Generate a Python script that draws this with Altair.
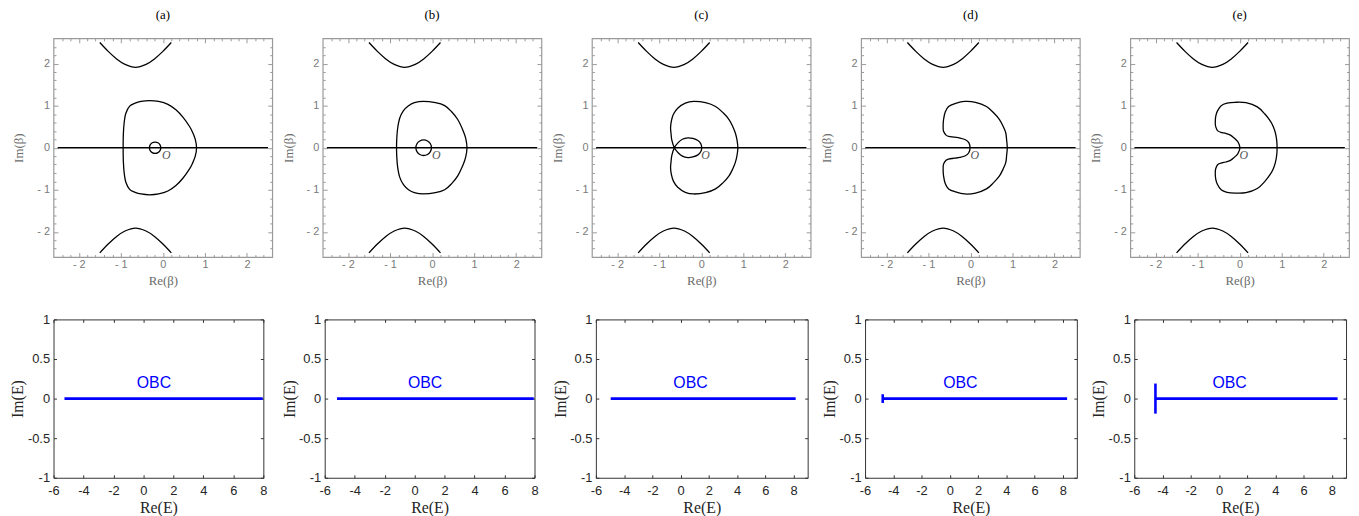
import altair as alt
import pandas as pd

SANS = "Liberation Sans"
SERIF = "Liberation Serif"
PANELS = ["(a)", "(b)", "(c)", "(d)", "(e)"]

# ---------------- top row (Im(beta) >= 0 halves) ----------------
LINE_X = [-2.5, 2.5]
HYP_X = [-1.5, -1.3, -1.1, -0.9, -0.65, -0.4, -0.2, 0.0, 0.2]
HYP_Y = [2.5, 2.29, 2.11, 1.98, 1.91, 1.98, 2.11, 2.29, 2.5]

A_OUT_X = [0.80, 0.77, 0.70, 0.63, 0.48, 0.31, 0.12, -0.10, -0.32, -0.52, -0.66, -0.79, -0.88, -0.92, -0.94, -0.945]
A_OUT_Y = [0.00, 0.20, 0.38, 0.51, 0.72, 0.90, 1.03, 1.10, 1.12, 1.10, 1.06, 0.99, 0.82, 0.60, 0.32, 0.00]
A_IN_X = [-0.05, -0.068, -0.118, -0.185, -0.253, -0.302, -0.32]
A_IN_Y = [0.0, 0.068, 0.117, 0.135, 0.117, 0.068, 0.0]

B_OUT_X = [0.83, 0.80, 0.74, 0.61, 0.46, 0.30, 0.08, -0.21, -0.42, -0.56, -0.68, -0.77, -0.82, -0.84, -0.845]
B_OUT_Y = [0.00, 0.22, 0.40, 0.67, 0.86, 1.00, 1.07, 1.10, 1.07, 1.00, 0.88, 0.70, 0.45, 0.20, 0.00]
B_IN_X = [-0.015, -0.04, -0.108, -0.2, -0.293, -0.36, -0.385]
B_IN_Y = [0.0, 0.093, 0.16, 0.185, 0.16, 0.093, 0.0]

C_OUT_X = [0.87, 0.85, 0.81, 0.75, 0.66, 0.52, 0.34, 0.10, -0.18, -0.38, -0.56, -0.66, -0.71, -0.73, -0.72, -0.70, -0.64]
C_OUT_Y = [0.00, 0.18, 0.35, 0.50, 0.67, 0.83, 0.98, 1.07, 1.10, 1.06, 0.94, 0.80, 0.64, 0.48, 0.35, 0.18, 0.00]
C_IN_X = [0.01, -0.01, -0.08, -0.20, -0.32, -0.45, -0.55, -0.64]
C_IN_Y = [0.00, 0.09, 0.17, 0.22, 0.235, 0.20, 0.12, 0.00]

D_X = [0.875, 0.86, 0.84, 0.78, 0.69, 0.55, 0.38, 0.12, -0.14, -0.36, -0.52, -0.60, -0.64, -0.65,
       -0.64, -0.58, -0.52, -0.38, -0.25, -0.12, -0.04, -0.01]
D_Y = [0.00, 0.18, 0.35, 0.50, 0.67, 0.83, 0.98, 1.08, 1.10, 1.05, 0.98, 0.85, 0.67, 0.50,
       0.39, 0.30, 0.27, 0.25, 0.23, 0.19, 0.12, 0.00]

E_X = [0.89, 0.88, 0.85, 0.80, 0.73, 0.60, 0.42, 0.15, -0.11, -0.30, -0.44, -0.53, -0.57, -0.58,
       -0.57, -0.52, -0.42, -0.33, -0.22, -0.13, -0.05, -0.01, 0.005]
E_Y = [0.00, 0.18, 0.35, 0.50, 0.63, 0.80, 0.97, 1.07, 1.08, 1.06, 1.00, 0.87, 0.74, 0.60,
       0.50, 0.40, 0.36, 0.34, 0.30, 0.23, 0.15, 0.07, 0.00]

O_X = [0.08, 0.1, 0.1, 0.1, 0.1]
O_Y = [-0.17, -0.17, -0.17, -0.17, -0.17]

TOP_MAJOR = [-2, -1, 0, 1, 2]
TOP_MINOR = [-2.4, -2.2, -1.8, -1.6, -1.4, -1.2, -0.8, -0.6, -0.4, -0.2,
             0.2, 0.4, 0.6, 0.8, 1.2, 1.4, 1.6, 1.8, 2.2, 2.4]

# ---------------- bottom row (OBC spectra) ----------------
OBC_START = [-5.27, -5.18, -4.95, -4.75, -4.5]
OBC_END = [7.96, 7.95, 8.15, 8.31, 8.4]
BAR_HALF = [0.0, 0.0, 0.0, 0.055, 0.19]
X_MAX = [8, 8, 9, 9, 9]
OBC_LABEL_X = [0.7, 0.7, 0.7, 0.75, 0.75]
OBC_LABEL_Y = [0.19, 0.19, 0.19, 0.19, 0.19]
BOT_X_TICKS = [-6, -4, -2, 0, 2, 4, 6, 8]
BOT_Y_TICKS = [-1, -0.5, 0, 0.5, 1]
BOT_W = [212, 212, 214, 214, 214]


def loop_points(xs, ys):
    upper = list(zip(xs, ys))
    lower = [(x, -y) for x, y in reversed(upper[1:-1])]
    return upper + lower


def crossing_points(ox, oy, ix, iy):
    o = list(zip(ox, oy))
    i = list(zip(ix, iy))
    seq = o[:]
    seq += [(x, -y) for x, y in reversed(i[1:-1])]
    seq += i[:]
    seq += [(x, -y) for x, y in reversed(o[1:-1])]
    return seq


LOOPS = [
    [loop_points(A_OUT_X, A_OUT_Y), loop_points(A_IN_X, A_IN_Y)],
    [loop_points(B_OUT_X, B_OUT_Y), loop_points(B_IN_X, B_IN_Y)],
    [crossing_points(C_OUT_X, C_OUT_Y, C_IN_X, C_IN_Y)],
    [loop_points(D_X, D_Y)],
    [loop_points(E_X, E_Y)],
]

TOP_LABEL = "(datum.value < 0 ? '- ' : '') + format(abs(datum.value), 'd')"
BX_LABEL = "(datum.value < 0 ? '-' : '') + format(abs(datum.value), 'd')"
BY_LABEL = "(datum.value < 0 ? '-' : '') + format(abs(datum.value), '~g')"


def tick_axis(orient, values, size, color):
    return alt.Axis(orient=orient, values=values, labels=False, domain=False, grid=False,
                    ticks=True, tickSize=size, tickColor=color, tickWidth=1, offset=-size,
                    title=None, minExtent=0, maxExtent=0)


def tick_layer(df, xs, ys, xaxis, yaxis):
    return alt.Chart(df).mark_point(opacity=0).encode(
        x=alt.X("x:Q", scale=xs, axis=xaxis),
        y=alt.Y("y:Q", scale=ys, axis=yaxis),
    )


def top_panel(k):
    xs = alt.Scale(domain=[-2.6, 2.6], nice=False, zero=False)
    ys = alt.Scale(domain=[-2.6, 2.6], nice=False, zero=False)
    gray = "#9a9a9a"
    xaxis = alt.Axis(orient="bottom", values=TOP_MAJOR, labelExpr=TOP_LABEL, ticks=False,
                     domain=False, grid=False, labelFont=SANS, labelFontSize=11,
                     labelColor="#7a7a7a", labelPadding=2, labelFlush=False, labelOverlap=False,
                     title="Re(β)", titleFont=SERIF, titleFontSize=13, titleFontWeight="normal",
                     titleColor="#6b6b6b", titlePadding=2, minExtent=16, maxExtent=16)
    yaxis = alt.Axis(orient="left", values=TOP_MAJOR, labelExpr=TOP_LABEL, ticks=False,
                     domain=False, grid=False, labelFont=SANS, labelFontSize=11,
                     labelColor="#7a7a7a", labelPadding=4, labelOverlap=False,
                     title="Im(β)", titleFont=SERIF, titleFontSize=13, titleFontWeight="normal",
                     titleColor="#6b6b6b", titlePadding=6, minExtent=22, maxExtent=22)

    line_df = pd.DataFrame({"x": LINE_X, "y": [0.0, 0.0]})
    hyp_rows = []
    for i, (hx, hy) in enumerate(zip(HYP_X, HYP_Y)):
        hyp_rows.append({"x": hx, "y": hy, "c": "up", "i": i})
        hyp_rows.append({"x": hx, "y": -hy, "c": "down", "i": i})
    hyp_df = pd.DataFrame(hyp_rows)
    loop_rows = []
    for c, pts in enumerate(LOOPS[k]):
        for i, (px, py) in enumerate(pts):
            loop_rows.append({"x": px, "y": py, "c": c, "i": i})
    loop_df = pd.DataFrame(loop_rows)
    o_df = pd.DataFrame({"x": [O_X[k]], "y": [O_Y[k]]})

    layers = [
        alt.Chart(line_df).mark_line(color="black", strokeWidth=1.5).encode(
            x=alt.X("x:Q", scale=xs, axis=xaxis), y=alt.Y("y:Q", scale=ys, axis=yaxis)),
        alt.Chart(hyp_df).mark_line(color="black", strokeWidth=1.3, interpolate="cardinal").encode(
            x=alt.X("x:Q", scale=xs, axis=None), y=alt.Y("y:Q", scale=ys, axis=None),
            detail="c:N", order="i:Q"),
        alt.Chart(loop_df).mark_line(color="black", strokeWidth=1.3,
                                     interpolate="cardinal-closed").encode(
            x=alt.X("x:Q", scale=xs, axis=None), y=alt.Y("y:Q", scale=ys, axis=None),
            detail="c:N", order="i:Q"),
        alt.Chart(o_df).mark_text(text="O", font=SERIF, fontStyle="italic", fontSize=12,
                                  color="#555555").encode(
            x=alt.X("x:Q", scale=xs, axis=None), y=alt.Y("y:Q", scale=ys, axis=None)),
        tick_layer(line_df, xs, ys, tick_axis("bottom", TOP_MAJOR, 4.5, gray),
                   tick_axis("left", TOP_MAJOR, 4.5, gray)),
        tick_layer(line_df, xs, ys, tick_axis("top", TOP_MAJOR, 4.5, gray),
                   tick_axis("right", TOP_MAJOR, 4.5, gray)),
        tick_layer(line_df, xs, ys, tick_axis("bottom", TOP_MINOR, 2.5, gray),
                   tick_axis("left", TOP_MINOR, 2.5, gray)),
        tick_layer(line_df, xs, ys, tick_axis("top", TOP_MINOR, 2.5, gray),
                   tick_axis("right", TOP_MINOR, 2.5, gray)),
    ]
    return alt.layer(*layers).resolve_axis(x="independent", y="independent").properties(
        width=221, height=221,
        title=alt.TitleParams(text=PANELS[k], font=SERIF, fontSize=13, fontWeight="normal",
                              color="black", offset=3, frame="group", anchor="middle",
                              baseline="bottom"),
        view=alt.ViewBackground(stroke=gray, strokeWidth=1.2),
    )


def bottom_panel(k):
    xs = alt.Scale(domain=[-6, X_MAX[k]], nice=False, zero=False)
    ys = alt.Scale(domain=[-1, 1], nice=False, zero=False)
    dark = "#333333"
    xaxis = alt.Axis(orient="bottom", values=BOT_X_TICKS, labelExpr=BX_LABEL, ticks=False,
                     domain=False, grid=False, labelFont=SANS, labelFontSize=13,
                     labelColor="#262626", labelPadding=7, labelFlush=False, labelOverlap=False,
                     title="Re(E)", titleFont=SERIF, titleFontSize=16, titleFontWeight="normal",
                     titleColor="#262626", titlePadding=1, minExtent=21, maxExtent=21)
    yaxis = alt.Axis(orient="left", values=BOT_Y_TICKS, labelExpr=BY_LABEL, ticks=False,
                     domain=False, grid=False, labelFont=SANS, labelFontSize=13,
                     labelColor="#262626", labelPadding=4, labelOverlap=False,
                     title="Im(E)", titleFont=SERIF, titleFontSize=16, titleFontWeight="normal",
                     titleColor="#262626", titlePadding=1, minExtent=27, maxExtent=27)
    seg_df = pd.DataFrame({"x": [OBC_START[k]], "x2": [OBC_END[k]], "y": [0.0]})
    txt_df = pd.DataFrame({"x": [OBC_LABEL_X[k]], "y": [OBC_LABEL_Y[k]]})
    pts_df = pd.DataFrame({"x": [OBC_START[k], OBC_END[k]], "y": [0.0, 0.0]})

    layers = [
        alt.Chart(seg_df).mark_rule(color="#0000ff", strokeWidth=2.6).encode(
            x=alt.X("x:Q", scale=xs, axis=xaxis), x2="x2:Q",
            y=alt.Y("y:Q", scale=ys, axis=yaxis)),
        alt.Chart(txt_df).mark_text(text="OBC", font=SANS, fontSize=16, color="#0000ff").encode(
            x=alt.X("x:Q", scale=xs, axis=None), y=alt.Y("y:Q", scale=ys, axis=None)),
        tick_layer(pts_df, xs, ys, tick_axis("bottom", BOT_X_TICKS, 3, dark),
                   tick_axis("left", BOT_Y_TICKS, 3, dark)),
        tick_layer(pts_df, xs, ys, tick_axis("top", BOT_X_TICKS, 3, dark),
                   tick_axis("right", BOT_Y_TICKS, 3, dark)),
    ]
    if BAR_HALF[k] > 0:
        bar_df = pd.DataFrame({"x": [OBC_START[k]], "y": [-BAR_HALF[k]], "y2": [BAR_HALF[k]]})
        layers.insert(1, alt.Chart(bar_df).mark_rule(color="#0000ff", strokeWidth=2.6).encode(
            x=alt.X("x:Q", scale=xs, axis=None),
            y=alt.Y("y:Q", scale=ys, axis=None), y2="y2:Q"))
    return alt.layer(*layers).resolve_axis(x="independent", y="independent").properties(
        width=BOT_W[k], height=160,
        view=alt.ViewBackground(stroke=dark, strokeWidth=1),
    )


top_row = alt.hconcat(*[top_panel(k) for k in range(5)], spacing=7)
bottom_row = alt.hconcat(*[bottom_panel(k) for k in range(5)], spacing=12)
chart = alt.vconcat(top_row, bottom_row, spacing=24).properties(
    padding={"left": 1, "top": -3, "right": 0, "bottom": 0}, background="white")

chart.save("out.html", embed_options={"renderer": "svg", "actions": False})
